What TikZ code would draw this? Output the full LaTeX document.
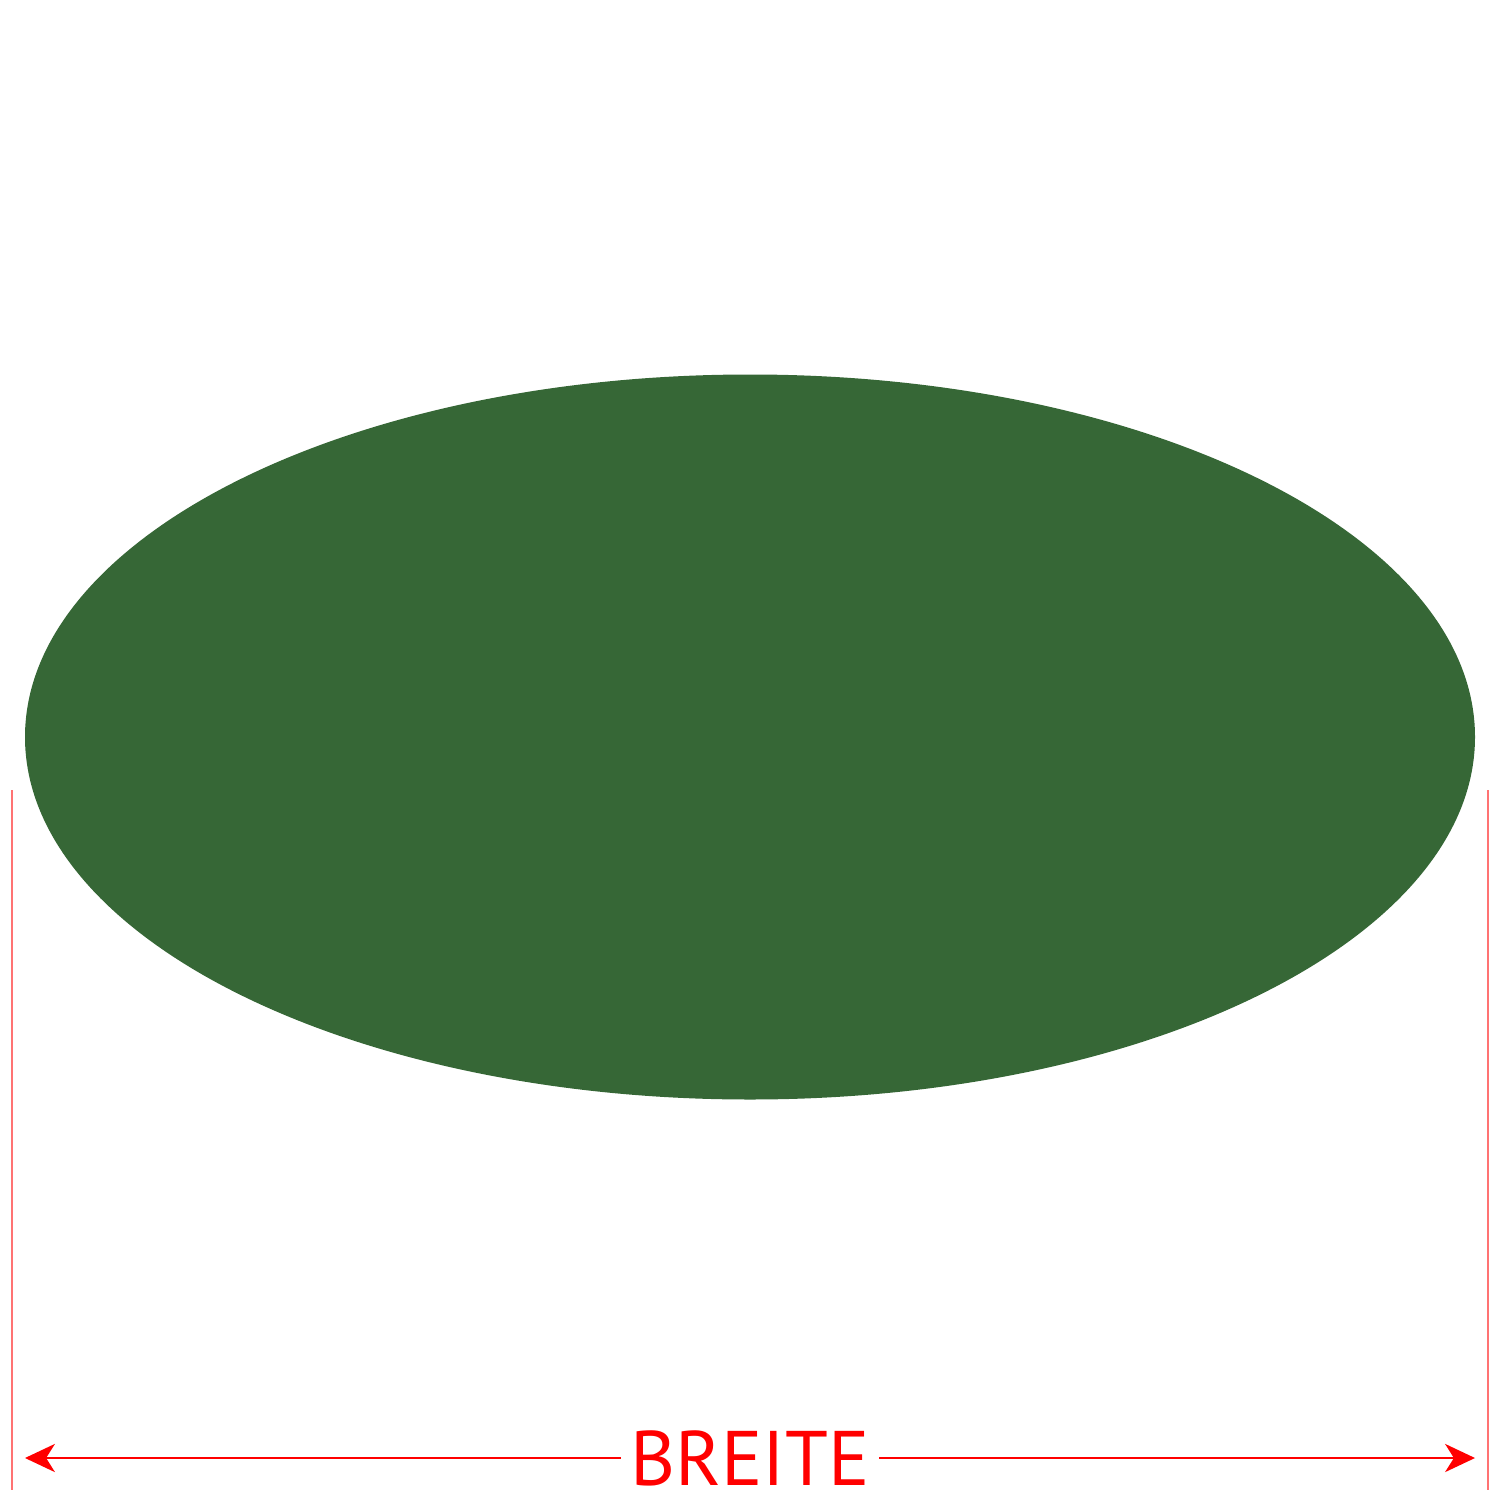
\documentclass[tikz,border=0pt]{standalone}
\usepackage{fontspec}
\setsansfont{PT Sans}
\usepackage{tikz}
\usetikzlibrary{positioning,arrows.meta}

\definecolor{rasen}{RGB}{54,103,54}
\tikzset{
  mass/.style={red, line width=0.65pt, -{Stealth[length=8.5pt,width=8pt,inset=2.5pt]}},
  hilf/.style={red!55, line width=0.4pt},
  beschr/.style={text=red, font=\sffamily\fontsize{22}{22}\selectfont, inner xsep=2.5pt, inner ysep=1pt}
}

\begin{document}
\begin{tikzpicture}[x=0.01cm,y=-0.01cm]
                \useasboundingbox (0,0) rectangle (1500,1500);

                \fill[rasen] (750,737) ellipse (725 and 362.5);

                \draw[hilf] (12,790)   -- (12,1490);
                \draw[hilf] (1488,790) -- (1488,1490);

                \coordinate (links)  at (25,1458);
                \coordinate (rechts) at (1475,1458);
                \node[beschr] (breite) at (750,1458) {BREITE};

                \draw[mass] (breite) -- (links);
                \draw[mass] (breite) -- (rechts);
            \end{tikzpicture}
\end{document}
